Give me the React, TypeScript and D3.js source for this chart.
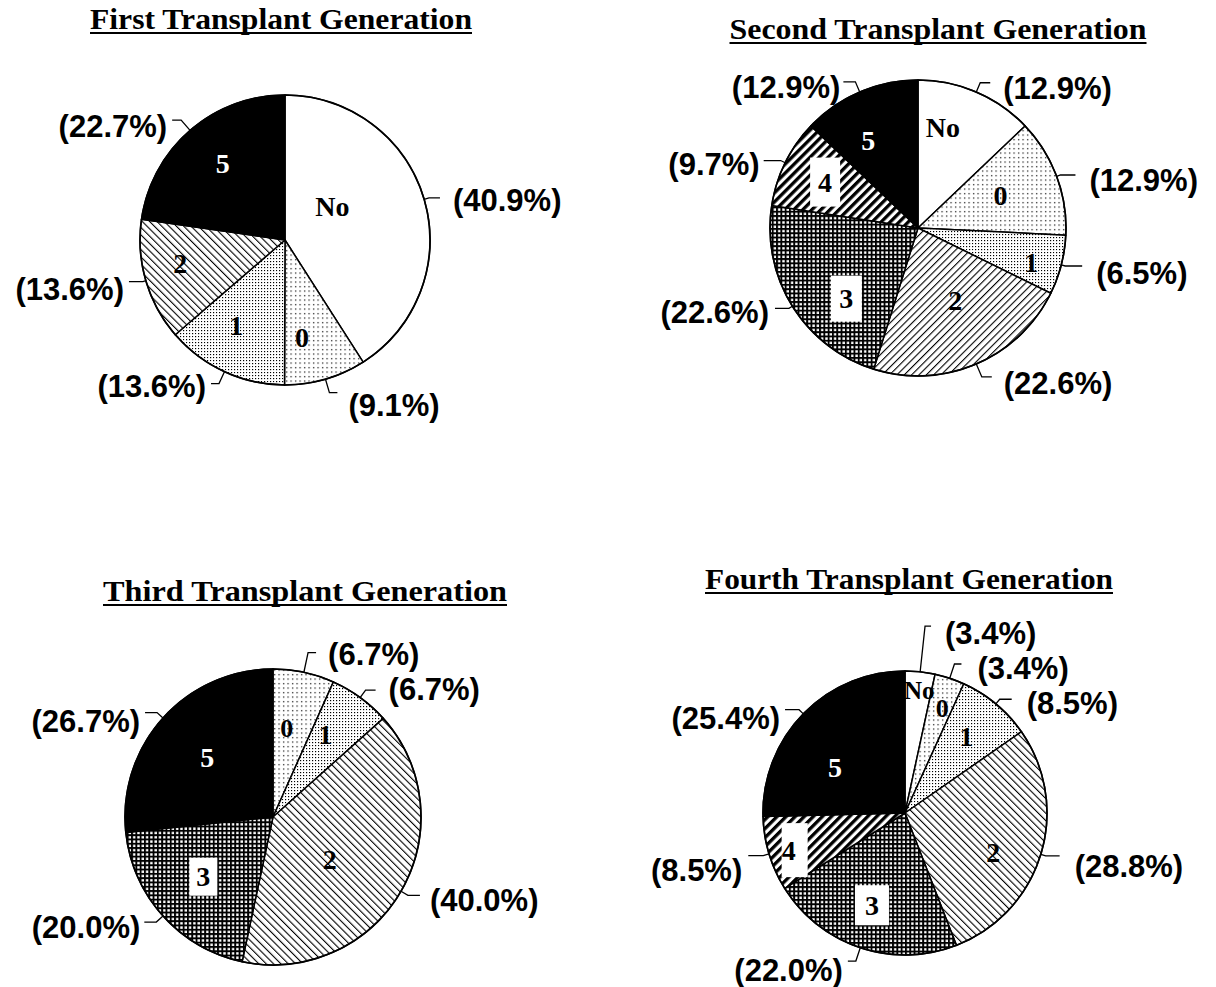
import React from "react";
import * as d3 from "d3";

// ---------- DATA ----------
const chartTitles = [
  "First Transplant Generation",
  "Second Transplant Generation",
  "Third Transplant Generation",
  "Fourth Transplant Generation",
];

const gen1Categories = ["No", "0", "1", "2", "5"];
const gen1Values = [40.9, 9.1, 13.6, 13.6, 22.7];

const gen2Categories = ["No", "0", "1", "2", "3", "4", "5"];
const gen2Values = [12.9, 12.9, 6.5, 22.6, 22.6, 9.7, 12.9];

const gen3Categories = ["0", "1", "2", "3", "5"];
const gen3Values = [6.7, 6.7, 40.0, 20.0, 26.7];

const gen4Categories = ["No", "0", "1", "2", "3", "4", "5"];
const gen4Values = [3.4, 3.4, 8.5, 28.8, 22.0, 8.5, 25.4];

const seriesCategories = [gen1Categories, gen2Categories, gen3Categories, gen4Categories];
const seriesValues = [gen1Values, gen2Values, gen3Values, gen4Values];

// ---------- LAYOUT (positions / styles) ----------
type Layout = {
  cx: number; cy: number; r: number;
  title: { x: number; y: number; w: number };
  hatch2: string;
  inner: [number, number, number][]; // [angle deg, radius fraction, font size]
  leaders: [number, number, number, number][]; // [ext, h, gap, dy]
  boxes: { [k: string]: [number, number, number] }; // w, h, dx
};

const layouts: Layout[] = [
  {
    cx: 285, cy: 240, r: 145,
    title: { x: 281, y: 29, w: 382 },
    hatch2: "hatchBack",
    inner: [[54.9, 0.4, 28], [170, 0.68, 28], [209.7, 0.68, 28], [257.6, 0.74, 28], [320.8, 0.68, 28]],
    leaders: [[5, 11, 13, 13], [14, 8, 11, 23], [13, 8, 5, 13], [3, 14, 5, 18], [13.6, 9, 5, 17]],
    boxes: {},
  },
  {
    cx: 918, cy: 228, r: 148,
    title: { x: 938, y: 39, w: 417 },
    hatch2: "hatchFwd",
    inner: [[13.9, 0.7, 28], [68.3, 0.6, 28], [107, 0.8, 28], [152.8, 0.55, 28], [225.4, 0.68, 28], [296.3, 0.7, 28], [330.4, 0.68, 28]],
    leaders: [[10, 10, 13, 16], [4, 15, 14, 16], [4, 17, 14, 18], [14, 10, 12, 17], [4, 14, 6, 15], [5, 17, 4, 14], [11, 12, 3, 16]],
    boxes: { "3": [31, 46, 0], "4": [30, 49, 0] },
  },
  {
    cx: 273, cy: 817, r: 148,
    title: { x: 305, y: 601, w: 404 },
    hatch2: "hatchBack",
    inner: [[8.8, 0.61, 26], [32.4, 0.66, 28], [127, 0.48, 28], [229.4, 0.62, 28], [312.3, 0.6, 28]],
    leaders: [[20, 8, 12, 12], [9, 10, 13, 10], [8, 12, 10, 16], [9, 12, 4, 16], [8, 12, 5, 19]],
    boxes: { "3": [28, 38, 0] },
  },
  {
    cx: 905, cy: 813, r: 142,
    title: { x: 909, y: 589, w: 408 },
    hatch2: "hatchBack",
    inner: [[6.6, 0.87, 25], [19.6, 0.78, 26], [38.7, 0.69, 28], [113.9, 0.68, 28], [199.7, 0.69, 28], [252.3, 0.86, 28], [303.3, 0.59, 28]],
    leaders: [[46, 6, 14, 18], [15, 7, 16, 15], [6, 12, 15, 15], [5, 14, 15, 21], [14, 8, 5, 20], [6, 15, 6, 25], [6, 14, 5, 19]],
    boxes: { "3": [34, 40, 0], "4": [26, 54, 6] },
  },
];

const SERIF = "'Liberation Serif', 'Times New Roman', serif";
const SANS = "'Liberation Sans', Arial, Helvetica, sans-serif";

function fillFor(cat: string, hatch2: string): string {
  switch (cat) {
    case "No": return "#ffffff";
    case "0": return "url(#dots0)";
    case "1": return "url(#dots1)";
    case "2": return `url(#${hatch2})`;
    case "3": return "url(#grid)";
    case "4": return "url(#stripes)";
    case "5": return "#000000";
    default: return "#fff";
  }
}

const rad = (deg: number) => (deg * Math.PI) / 180;

function PieChart({ idx }: { idx: number }) {
  const L = layouts[idx];
  const cats = seriesCategories[idx];
  const vals = seriesValues[idx];
  const arcs = d3.pie<number>().sort(null).value((d) => d)(vals);
  const arcGen = d3.arc<d3.PieArcDatum<number>>().innerRadius(0).outerRadius(L.r);

  return (
    <g>
      {/* title */}
      <text
        x={L.title.x}
        y={L.title.y}
        textAnchor="middle"
        fontFamily={SERIF}
        fontWeight="bold"
        fontSize={30}
        textLength={L.title.w}
        lengthAdjust="spacingAndGlyphs"
        fill="#000"
      >
        {chartTitles[idx]}
      </text>
      <line
        x1={L.title.x - L.title.w / 2}
        x2={L.title.x + L.title.w / 2}
        y1={L.title.y + 4}
        y2={L.title.y + 4}
        stroke="#000"
        strokeWidth={2}
      />
      <g transform={`translate(${L.cx},${L.cy})`}>
        {arcs.map((a, i) => (
          <path
            key={i}
            d={arcGen(a) || ""}
            fill={fillFor(cats[i], L.hatch2)}
            stroke="#000"
            strokeWidth={1.5}
            strokeLinejoin="round"
          />
        ))}
        <circle r={L.r} fill="none" stroke="#000" strokeWidth={1.6} />
      </g>
      {/* inner labels */}
      {arcs.map((a, i) => {
        const [ang, frac, fs] = L.inner[i];
        const x = L.cx + frac * L.r * Math.sin(rad(ang));
        const y = L.cy - frac * L.r * Math.cos(rad(ang));
        const cat = cats[i];
        const box = L.boxes[cat];
        return (
          <g key={"in" + i}>
            {box && (
              <rect x={x - box[0] / 2 + box[2]} y={y - box[1] / 2} width={box[0]} height={box[1]} fill="#fff" />
            )}
            <text
              x={x}
              y={y + fs * 0.34}
              textAnchor="middle"
              fontFamily={SERIF}
              fontWeight="bold"
              fontSize={fs}
              fill={cat === "5" ? "#fff" : "#000"}
            >
              {cat}
            </text>
          </g>
        );
      })}
      {/* percent labels with leaders */}
      {arcs.map((a, i) => {
        const mid = (a.startAngle + a.endAngle) / 2;
        const [ext, h, gap, dy] = L.leaders[i];
        const ex = L.cx + L.r * Math.sin(mid);
        const ey = L.cy - L.r * Math.cos(mid);
        const bx = L.cx + (L.r + ext) * Math.sin(mid);
        const by = L.cy - (L.r + ext) * Math.cos(mid);
        const side = Math.sin(mid) >= 0 ? 1 : -1;
        const hx = bx + side * h;
        const tx = hx + side * gap;
        return (
          <g key={"lb" + i}>
            <polyline
              points={`${ex},${ey} ${bx},${by} ${hx},${by}`}
              fill="none"
              stroke="#000"
              strokeWidth={1.3}
            />
            <text
              x={tx}
              y={by + dy}
              textAnchor={side > 0 ? "start" : "end"}
              fontFamily={SANS}
              fontWeight="bold"
              fontSize={31}
              fill="#000"
            >
              {`(${vals[i].toFixed(1)}%)`}
            </text>
          </g>
        );
      })}
    </g>
  );
}

export default function App() {
  return (
    <svg
      width={1216}
      height={987}
      viewBox="0 0 1216 987"
      style={{ position: "absolute", left: 0, top: 0, display: "block", background: "#fff" }}
    >
      <defs>
        <pattern id="dots0" width={4.5} height={4.5} patternUnits="userSpaceOnUse">
          <rect width={4.5} height={4.5} fill="#fff" />
          <rect x={1} y={1} width={1.2} height={1.2} fill="#000" />
        </pattern>
        <pattern id="dots1" width={6} height={6} patternUnits="userSpaceOnUse">
          <rect width={6} height={6} fill="#fff" />
          <rect x={0} y={0} width={1.2} height={1.2} fill="#000" />
          <rect x={3} y={3} width={1.2} height={1.2} fill="#000" />
          <rect x={3} y={0} width={1.1} height={1.1} fill="#000" />
          <rect x={0} y={3} width={1.1} height={1.1} fill="#000" />
        </pattern>
        <pattern id="hatchBack" width={5.2} height={10} patternUnits="userSpaceOnUse" patternTransform="rotate(-45)">
          <rect width={5.2} height={10} fill="#fff" />
          <rect x={0} y={0} width={1.1} height={10} fill="#000" />
        </pattern>
        <pattern id="hatchFwd" width={5.2} height={10} patternUnits="userSpaceOnUse" patternTransform="rotate(45)">
          <rect width={5.2} height={10} fill="#fff" />
          <rect x={0} y={0} width={1.1} height={10} fill="#000" />
        </pattern>
        <pattern id="grid" width={4.3} height={4.3} patternUnits="userSpaceOnUse">
          <rect width={4.3} height={4.3} fill="#fff" />
          <rect x={0} y={0} width={4.3} height={1.9} fill="#000" />
          <rect x={0} y={0} width={1.9} height={4.3} fill="#000" />
        </pattern>
        <pattern id="stripes" width={6.4} height={10} patternUnits="userSpaceOnUse" patternTransform="rotate(45)">
          <rect width={6.4} height={10} fill="#fff" />
          <rect x={0} y={0} width={3.3} height={10} fill="#000" />
        </pattern>
      </defs>
      <rect width={1216} height={987} fill="#fff" />
      {layouts.map((_, i) => (
        <PieChart key={i} idx={i} />
      ))}
    </svg>
  );
}
